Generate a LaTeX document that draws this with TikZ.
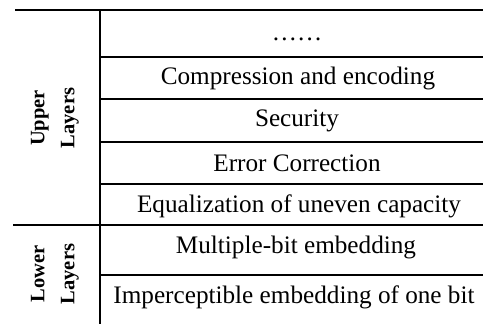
\documentclass[tikz,border=0pt]{standalone}
\usepackage{fontspec}
\setmainfont{Liberation Serif}
\begin{document}
\begin{tikzpicture}[x=1pt,y=-1pt,
  rule/.style={line width=1.6pt,black},
  rowtext/.style={inner sep=0pt,anchor=base,font=\fontsize{25.2}{30}\selectfont},
  sidetext/.style={inner sep=0pt,rotate=90,align=center,font=\fontsize{20.5}{30}\selectfont\bfseries}]
\useasboundingbox (0,0) rectangle (483,324);
% grid coordinates
\coordinate (tl) at (15,10);
\coordinate (tr) at (483,10);
\coordinate (vt) at (100,10);
\coordinate (vb) at (100,324);
\draw[rule] (tl) -- (tr);
\draw[rule] (vt) -- (vb);
\draw[rule] (100,57) -- (483,57);
\draw[rule] (100,99) -- (483,99);
\draw[rule] (100,142) -- (483,142);
\draw[rule] (100,184) -- (483,184);
\draw[rule] (13,225) -- (483,225);
\draw[rule] (100,275) -- (483,275);
% row texts
\node[rowtext] (r1) at (297,40) {……};
\node[rowtext] (r2) at (298,84) {Compression and encoding};
\node[rowtext] (r3) at (297,126) {Security};
\node[rowtext] (r4) at (297,171) {Error Correction};
\node[rowtext] (r5) at (299,212) {Equalization of uneven capacity};
\node[rowtext] (r6) at (296,253) {Multiple-bit embedding};
\node[rowtext] (r7) at (294,303) {Imperceptible embedding of one bit};
% side labels
\node[sidetext] (up) at (55,118) {Upper\\Layers};
\node[sidetext] (lo) at (55,274) {Lower\\Layers};
\end{tikzpicture}
\end{document}
